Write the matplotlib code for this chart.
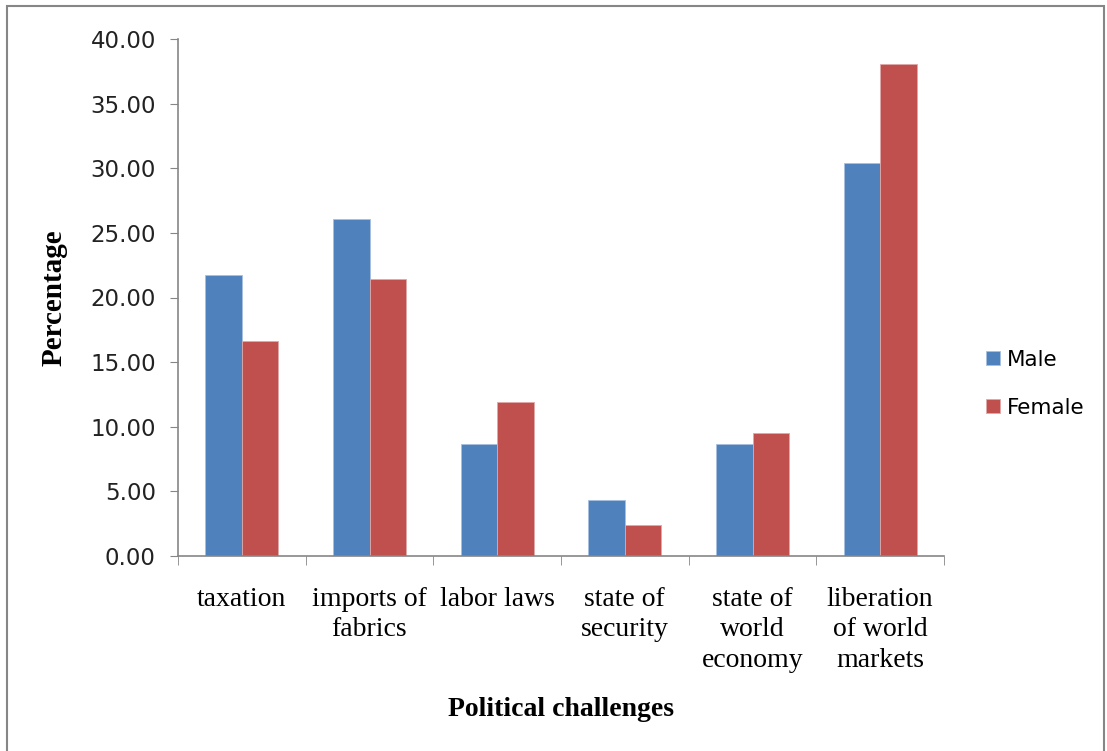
import matplotlib
matplotlib.use("Agg")
import matplotlib.pyplot as plt
import numpy as np
from matplotlib.patches import Rectangle

categories = ["taxation", "imports of\nfabrics", "labor laws", "state of\nsecurity",
              "state of\nworld\neconomy", "liberation\nof world\nmarkets"]
male = [21.74, 26.09, 8.70, 4.35, 8.70, 30.43]
female = [16.67, 21.43, 11.90, 2.38, 9.52, 38.10]

blue = "#4f81bd"
red = "#c0504d"
grey = "#868686"

fig = plt.figure(figsize=(11.07, 7.51), dpi=100)
ax = fig.add_axes([178/1107, 1-556/751, (944-178)/1107, (556-39)/751])

x = np.arange(len(categories))
w = 0.285
ax.bar(x - w/2, male, w, color=blue, label="Male", edgecolor="#a7c0e0", linewidth=0.6)
ax.bar(x + w/2, female, w, color=red, label="Female", edgecolor="#e0a8a6", linewidth=0.6)

ax.set_xlim(-0.5, len(categories) - 0.5)
ax.set_ylim(0, 40)
ax.set_yticks(np.arange(0, 40.1, 5))
ax.set_yticklabels([f"{v:.2f}" for v in np.arange(0, 40.1, 5)], fontsize=16.5,
                   family="DejaVu Sans", color="#222222")
ax.set_xticks(x)
ax.set_xticklabels(categories, fontsize=20, family="Liberation Serif",
                   linespacing=1.3, va="top")
ax.set_xticks(np.arange(-0.5, len(categories)), minor=True)
ax.tick_params(axis="x", which="major", length=0, pad=22)
ax.tick_params(axis="x", which="minor", length=6.5, color=grey, direction="out")
ax.tick_params(axis="y", length=6, color=grey, direction="out", pad=10)

for s in ["top", "right"]:
    ax.spines[s].set_visible(False)
for s in ["left", "bottom"]:
    ax.spines[s].set_color(grey)
    ax.spines[s].set_linewidth(1.2)

ax.set_xlabel("Political challenges", fontsize=20, family="Liberation Serif",
              fontweight="bold")
ax.xaxis.set_label_coords(0.5, -0.272)
ax.set_ylabel("Percentage", fontsize=21, family="Liberation Serif",
              fontweight="bold")
ax.yaxis.set_label_coords(-0.1436, 0.5)

leg = ax.legend(loc="center left", bbox_to_anchor=(1.030, 0.333), frameon=False,
                prop={"family": "DejaVu Sans", "size": 15.5}, handlelength=0.65,
                handleheight=0.65, handletextpad=0.32, labelspacing=1.3)

fig.patches.append(Rectangle((7/1107, -0.1), 1097/1107, 1.1 - 6/751,
                             transform=fig.transFigure, fill=False,
                             edgecolor=grey, linewidth=1.5))

fig.savefig("out.png", dpi=100)
